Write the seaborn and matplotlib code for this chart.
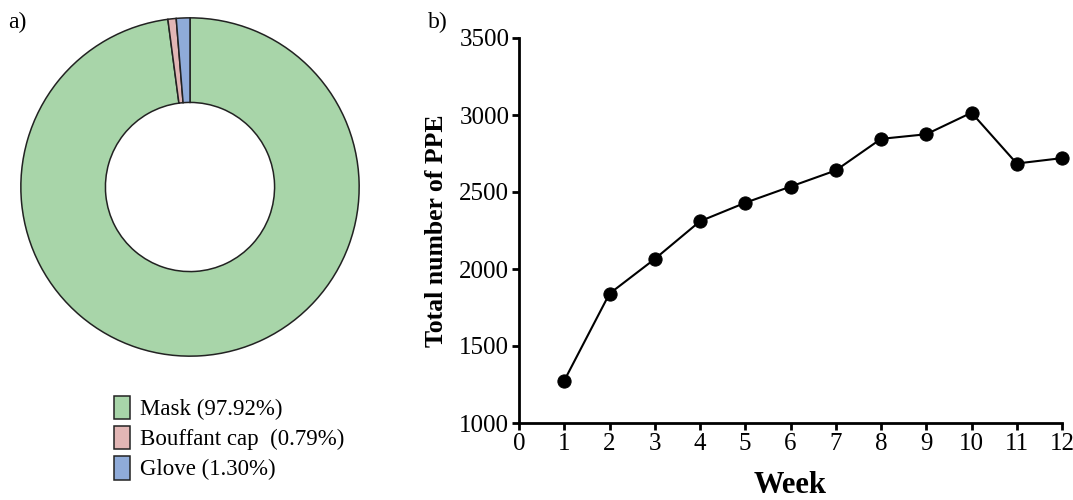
import numpy as np
import pandas as pd
import matplotlib
matplotlib.use('Agg')
import matplotlib.pyplot as plt
import seaborn as sns

# panel a: PPE composition
ppe_items = ['Mask', 'Bouffant cap', 'Glove']
ppe_share = [97.92, 0.79, 1.30]
ppe_labels = ['Mask (97.92%)', 'Bouffant cap  (0.79%)', 'Glove (1.30%)']
ppe_colors = ['#a8d5a9', '#e2b6b5', '#8fabd9']

# panel b: weekly totals
weeks = [1, 2, 3, 4, 5, 6, 7, 8, 9, 10, 11, 12]
totals = [1275, 1840, 2065, 2310, 2430, 2535, 2640, 2845, 2875, 3015, 2685, 2720]

sns.set_theme(style='ticks')
plt.rcParams['font.family'] = ['Liberation Serif', 'DejaVu Serif']
plt.rcParams.update({'text.color': 'black', 'axes.labelcolor': 'black',
                     'xtick.color': 'black', 'ytick.color': 'black',
                     'axes.edgecolor': 'black'})

fig = plt.figure(figsize=(10.73, 5.0), dpi=100)

# donut
ax1 = fig.add_axes([20 / 1073, 1 - 357 / 500, 340 / 1073, 340 / 500])
wedges, _ = ax1.pie(ppe_share, colors=ppe_colors, startangle=90, counterclock=False,
                    radius=1.0, wedgeprops=dict(width=0.5, edgecolor='#222222', linewidth=1.1))
ax1.set_xlim(-1.005, 1.005)
ax1.set_ylim(-1.005, 1.005)
ax1.set_aspect('equal')
ax1.axis('off')

leg = fig.legend(wedges, ppe_labels, loc='upper left', bbox_to_anchor=(93 / 1073, 1 - 375 / 500),
                 frameon=False, fontsize=16.5, handlelength=0.7, handleheight=1.2,
                 handletextpad=0.45, labelspacing=0.25)
fig.text(8 / 1073, 1 - 22 / 500, 'a)', fontsize=17, va='center')

# line chart
ax2 = fig.add_axes([519 / 1073, 1 - 423 / 500, 543 / 1073, 385 / 500])
df = pd.DataFrame({'Week': weeks, 'Total': totals})
sns.lineplot(data=df, x='Week', y='Total', ax=ax2, color='black', linewidth=1.5,
             marker='o', markersize=9.5, markeredgecolor='black', clip_on=False)
ax2.set_xlim(0, 12)
ax2.set_ylim(1000, 3500)
ax2.set_xticks(range(0, 13))
ax2.set_yticks(range(1000, 3501, 500))
ax2.tick_params(labelsize=18, width=2, length=5, pad=2)
for s in ['left', 'bottom']:
    ax2.spines[s].set_linewidth(2)
sns.despine(ax=ax2)
ax2.set_xlabel('Week', fontsize=22, fontweight='bold', labelpad=12)
ax2.set_ylabel('Total number of PPE', fontsize=18.5, fontweight='bold', labelpad=8)
fig.text(428 / 1073, 1 - 22 / 500, 'b)', fontsize=17, va='center')

fig.savefig('out.png', dpi=100)
